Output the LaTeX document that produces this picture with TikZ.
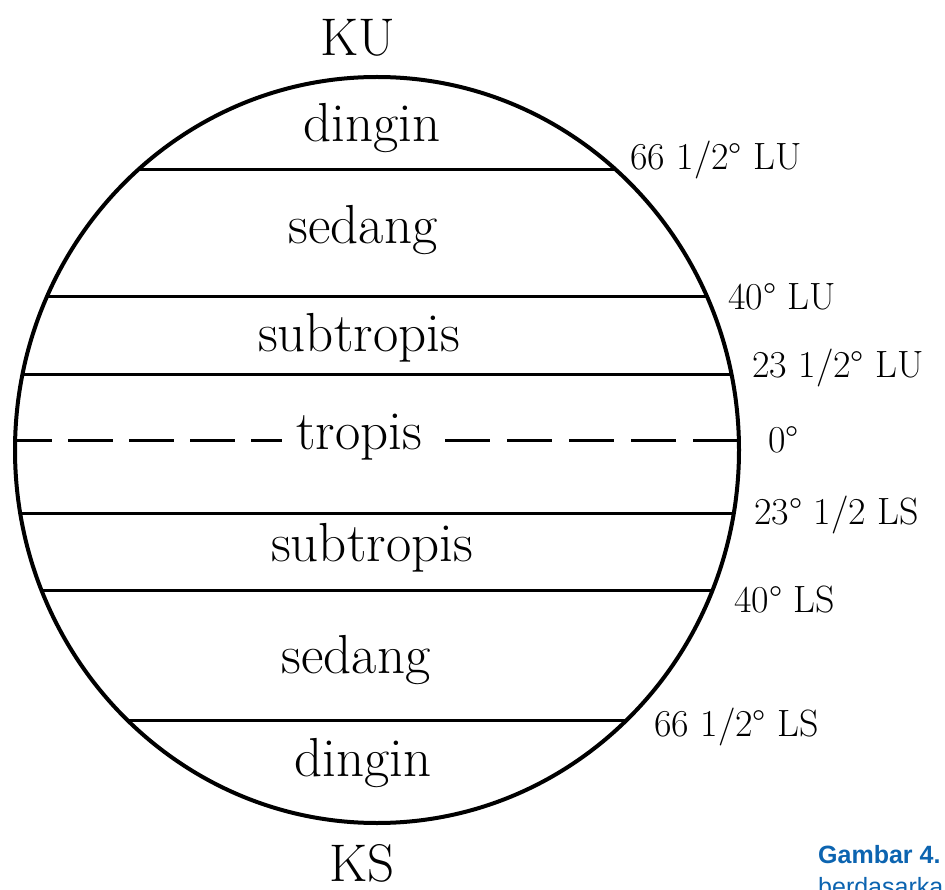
\documentclass[tikz,border=0pt]{standalone}
\usepackage{fontspec}
\newfontfamily\capsans{Liberation Sans}
\definecolor{capblue}{RGB}{12,100,176}
\begin{document}
\begin{tikzpicture}[x=1pt,y=-1pt,
  zone/.style={font=\fontsize{55}{55}\selectfont, inner sep=0pt},
  pole/.style={font=\fontsize{53}{53}\selectfont, inner sep=0pt},
  lat/.style={font=\fontsize{38}{38}\selectfont, anchor=west, inner sep=0pt},
  latline/.style={line width=3pt},
  eqdash/.style={line width=3pt, dash pattern=on 45pt off 16pt},
  capt/.style={font=\capsans\fontsize{25}{25}\selectfont, text=capblue, anchor=base west, inner sep=0pt}]
\useasboundingbox (0,0) rectangle (945,890);
\coordinate (c) at (377,450);
\begin{scope}
  \clip (c) ellipse [x radius=362, y radius=373];
  \coordinate (l1a) at (0,170); \coordinate (l1b) at (945,170);
  \coordinate (l2a) at (0,297); \coordinate (l2b) at (945,297);
  \coordinate (l3a) at (0,375); \coordinate (l3b) at (945,375);
  \coordinate (l4a) at (7,440); \coordinate (l4b) at (282,440);
  \coordinate (l4c) at (445,440); \coordinate (l4d) at (800,440);
  \coordinate (l5a) at (0,513); \coordinate (l5b) at (945,513);
  \coordinate (l6a) at (0,590); \coordinate (l6b) at (945,590);
  \coordinate (l7a) at (0,720); \coordinate (l7b) at (945,720);
  \draw[latline] (l1a) -- (l1b);
  \draw[latline] (l2a) -- (l2b);
  \draw[latline] (l3a) -- (l3b);
  \draw[eqdash] (l4a) -- (l4b);
  \draw[eqdash, dash pattern=on 45pt off 17pt] (l4c) -- (l4d);
  \draw[latline] (l5a) -- (l5b);
  \draw[latline] (l6a) -- (l6b);
  \draw[latline] (l7a) -- (l7b);
\end{scope}
\draw[line width=4pt] (c) ellipse [x radius=362, y radius=373];
\node[pole] (ku) at (358,38) {KU};
\node[pole] (ks) at (362,863) {KS};
\node[zone] (z1) at (372,128) {dingin};
\node[zone] (z2) at (363,230) {sedang};
\node[zone] (z3) at (359,338) {subtropis};
\node[zone] (z4) at (359,437) {tropis};
\node[zone] (z5) at (372,548) {subtropis};
\node[zone] (z6) at (356,660) {sedang};
\node[zone] (z7) at (363,763) {dingin};
\node[lat] (t1) at (630,160) {66 1/2° LU};
\node[lat] (t2) at (728,297) {40° LU};
\node[lat] (t3) at (752,368) {23 1/2° LU};
\node[lat] (t4) at (768,440) {0°};
\node[lat] (t5) at (754,515) {23° 1/2 LS};
\node[lat] (t6) at (734,600) {40° LS};
\node[lat] (t7) at (654,727) {66 1/2° LS};
\node[capt] (g1) at (818,863) {\bfseries Gambar 4.};
\node[capt] (g2) at (818,895) {berdasarka};
\end{tikzpicture}
\end{document}
